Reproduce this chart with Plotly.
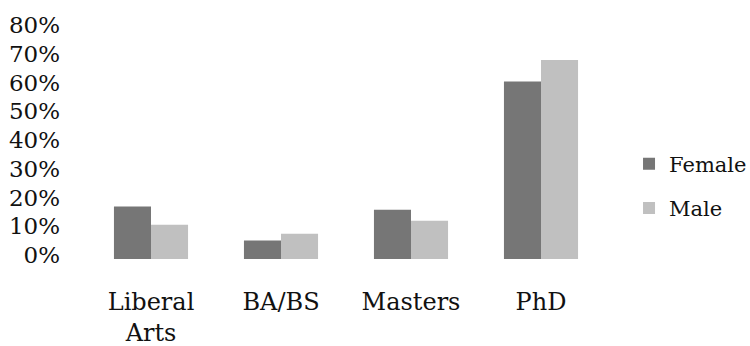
import plotly.graph_objects as go

# Share of respondents by highest degree, split by gender
categories = ["Liberal<br>Arts", "BA/BS", "Masters", "PhD"]
female = [0.183, 0.064, 0.171, 0.617]
male = [0.119, 0.088, 0.133, 0.692]
tick_values = [0, 0.1, 0.2, 0.3, 0.4, 0.5, 0.6, 0.7, 0.8]
tick_labels = ["0%", "10%", "20%", "30%", "40%", "50%", "60%", "70%", "80%"]

FONT = "DejaVu Serif"

fig = go.Figure()
fig.add_trace(go.Bar(name="Female", x=categories, y=female,
                     marker=dict(color="#767676", line=dict(width=0)),
                     legendgroup="f"))
fig.add_trace(go.Bar(name="Male", x=categories, y=male,
                     marker=dict(color="#c0c0c0", line=dict(width=0)),
                     legendgroup="m"))

fig.update_layout(
    template="none",
    width=750, height=346,
    margin=dict(l=86, r=144, t=29, b=87, pad=0),
    paper_bgcolor="white", plot_bgcolor="white",
    barmode="group", bargap=0.43, bargroupgap=0,
    font=dict(family=FONT, size=23, color="#111111"),
    legend=dict(xref="container", yref="container",
                x=0.8387, y=0.4624, xanchor="left", yanchor="middle",
                font=dict(size=21), tracegroupgap=14,
                bgcolor="rgba(0,0,0,0)", borderwidth=0),
)
fig.update_xaxes(showgrid=False, showline=False, zeroline=False, ticks="",
                 automargin=False, tickfont=dict(size=24),
                 ticklabelstandoff=26)
fig.update_yaxes(range=[0, 0.8], tickvals=tick_values, ticktext=tick_labels,
                 showgrid=False, showline=False, zeroline=False, ticks="",
                 automargin=False, tickfont=dict(size=23),
                 ticklabelstandoff=25, ticklabelshift=-4)

fig.write_html("out.html")
